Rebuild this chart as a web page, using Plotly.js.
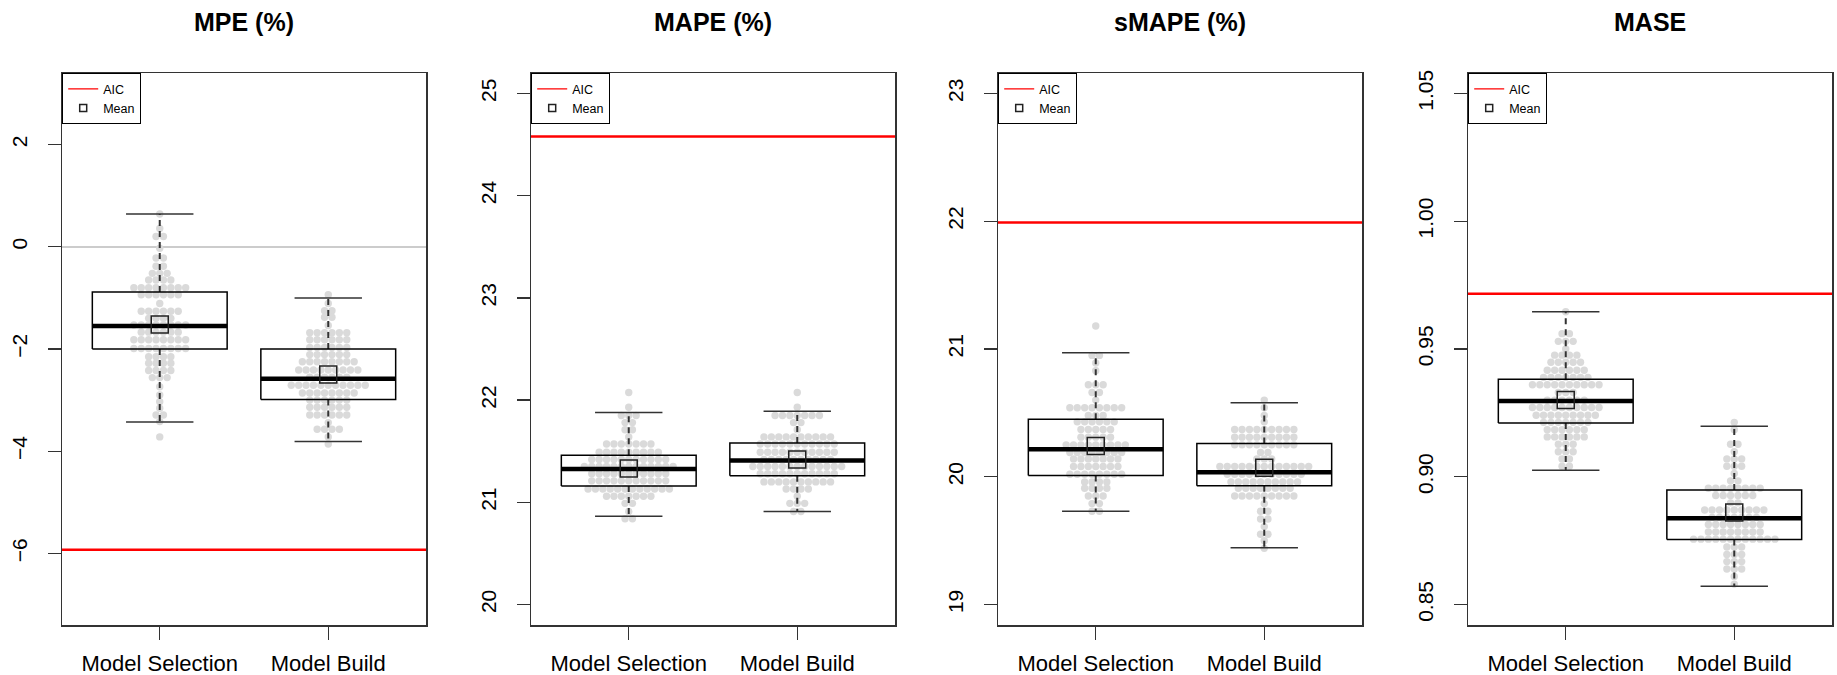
<!DOCTYPE html>
<html>
<head>
<meta charset="utf-8">
<script src="https://cdn.plot.ly/plotly-3.0.1.min.js"></script>
<style>html,body{margin:0;padding:0;background:#fff;}#chart{width:1837px;height:675px;}</style>
</head>
<body>
<div id="chart"></div>
<script>
// ---------------- DATA ----------------
const categories = ['Model Selection', 'Model Build'];
const panelTitles = ['MPE (%)', 'MAPE (%)', 'sMAPE (%)', 'MASE'];
const aicValues = [-5.93, 24.58, 21.99, 0.9716];

// box statistics [Model Selection, Model Build]
const mpeLower = [-3.43, -3.81], mpeQ1 = [-2.00, -2.99], mpeMedian = [-1.55, -2.58], mpeQ3 = [-0.885, -2.00], mpeUpper = [0.64, -1.00], mpeMean = [-1.52, -2.50];
const mapeLower = [20.865, 20.91], mapeQ1 = [21.16, 21.26], mapeMedian = [21.325, 21.41], mapeQ3 = [21.46, 21.58], mapeUpper = [21.88, 21.89], mapeMean = [21.33, 21.42];
const smapeLower = [19.73, 19.445], smapeQ1 = [20.01, 19.93], smapeMedian = [20.215, 20.035], smapeQ3 = [20.45, 20.26], smapeUpper = [20.97, 20.58], smapeMean = [20.24, 20.07];
const maseLower = [0.9026, 0.8572], maseQ1 = [0.921, 0.8755], maseMedian = [0.9297, 0.8838], maseQ3 = [0.9382, 0.8948], maseUpper = [0.9646, 0.9198], maseMean = [0.9300, 0.8860];

// beeswarm rows: value of each row and number of points in it
const mpeSelRowY = [0.64, 0.36, 0.20, -0.03, -0.22, -0.38, -0.52, -0.65, -0.80, -0.94, -1.11, -1.26, -1.40, -1.53, -1.67, -1.82, -1.99, -2.15, -2.28, -2.42, -2.56, -2.74, -2.90, -3.03, -3.16, -3.29, -3.42, -3.72];
const mpeSelRowN = [1, 1, 2, 1, 2, 2, 3, 4, 8, 6, 1, 6, 4, 8, 6, 8, 8, 4, 4, 4, 3, 1, 1, 1, 1, 2, 1, 1];
const mpeBldRowY = [-0.94, -1.11, -1.25, -1.38, -1.54, -1.68, -1.82, -1.97, -2.11, -2.25, -2.41, -2.55, -2.71, -2.86, -3.00, -3.14, -3.29, -3.44, -3.57, -3.72, -3.86];
const mpeBldRowN = [1, 1, 2, 2, 1, 6, 6, 6, 6, 8, 9, 6, 11, 8, 6, 6, 6, 1, 4, 1, 1];
const mapeSelRowY = [22.075, 21.93, 21.85, 21.78, 21.71, 21.64, 21.57, 21.49, 21.42, 21.35, 21.28, 21.21, 21.13, 21.06, 20.99, 20.91, 20.84];
const mapeSelRowN = [1, 1, 3, 2, 2, 1, 7, 9, 11, 13, 11, 11, 12, 7, 2, 1, 2];
const mapeBldRowY = [22.075, 21.93, 21.85, 21.78, 21.71, 21.64, 21.57, 21.49, 21.42, 21.35, 21.28, 21.20, 21.13, 21.06, 20.99, 20.91];
const mapeBldRowN = [1, 1, 7, 2, 1, 10, 11, 11, 10, 13, 11, 10, 4, 1, 3, 2];
const smapeSelRowY = [21.18, 20.95, 20.89, 20.83, 20.72, 20.66, 20.60, 20.54, 20.48, 20.43, 20.37, 20.31, 20.25, 20.19, 20.14, 20.08, 20.02, 19.96, 19.91, 19.85, 19.79, 19.73];
const smapeSelRowN = [1, 2, 1, 1, 3, 2, 1, 8, 3, 6, 5, 5, 9, 8, 7, 7, 8, 4, 4, 3, 2, 2];
const smapeBldRowY = [20.60, 20.54, 20.48, 20.43, 20.37, 20.31, 20.25, 20.19, 20.14, 20.08, 20.02, 19.96, 19.91, 19.85, 19.79, 19.73, 19.67, 19.61, 19.55, 19.50, 19.44];
const smapeBldRowN = [1, 1, 1, 1, 9, 9, 9, 2, 3, 13, 11, 10, 8, 9, 1, 2, 2, 1, 2, 1, 1];
const maseSelRowY = [0.9646, 0.9560, 0.9530, 0.9500, 0.9476, 0.9448, 0.9417, 0.9389, 0.9360, 0.9330, 0.9300, 0.9271, 0.9241, 0.9213, 0.9184, 0.9156, 0.9127, 0.9098, 0.9070, 0.9041];
const maseSelRowN = [1, 2, 3, 1, 4, 5, 6, 7, 10, 3, 6, 10, 9, 7, 6, 6, 3, 3, 2, 2];
const maseBldRowY = [0.9213, 0.9184, 0.9127, 0.9098, 0.9070, 0.9041, 0.9013, 0.8984, 0.8955, 0.8927, 0.8898, 0.8870, 0.8841, 0.8813, 0.8784, 0.8756, 0.8725, 0.8696, 0.8668, 0.8639, 0.8610, 0.8580];
const maseBldRowN = [1, 1, 2, 1, 3, 3, 1, 2, 8, 6, 2, 9, 7, 8, 8, 12, 3, 3, 3, 3, 1, 1];

// y axis settings per panel
const yRanges = [[-7.4, 3.4], [19.8, 25.2], [18.84, 23.16], [0.842, 1.058]];
const yDticks = [2, 1, 1, 0.05];
const yFormats = ['', '', '', '.2f'];

// ---------------- STYLE / LAYOUT ----------------
const W = 1837, H = 675;
const panelLeft = [62, 531, 998, 1468];
const panelW = 364;
const plotTop = 73, plotBottom = 625;
const xRange = [0.42, 2.58];
const ptPx = 7.4;
const dx = ptPx * (xRange[1] - xRange[0]) / panelW;
const FONT = 'Liberation Sans, Arial, Helvetica, sans-serif';

const panels = [
  {lower: mpeLower, q1: mpeQ1, med: mpeMedian, q3: mpeQ3, upper: mpeUpper, mean: mpeMean, rows: [[mpeSelRowY, mpeSelRowN], [mpeBldRowY, mpeBldRowN]]},
  {lower: mapeLower, q1: mapeQ1, med: mapeMedian, q3: mapeQ3, upper: mapeUpper, mean: mapeMean, rows: [[mapeSelRowY, mapeSelRowN], [mapeBldRowY, mapeBldRowN]]},
  {lower: smapeLower, q1: smapeQ1, med: smapeMedian, q3: smapeQ3, upper: smapeUpper, mean: smapeMean, rows: [[smapeSelRowY, smapeSelRowN], [smapeBldRowY, smapeBldRowN]]},
  {lower: maseLower, q1: maseQ1, med: maseMedian, q3: maseQ3, upper: maseUpper, mean: maseMean, rows: [[maseSelRowY, maseSelRowN], [maseBldRowY, maseBldRowN]]}
];

const traces = [];
const layout = {
  width: W, height: H,
  margin: {l: 0, r: 0, t: 0, b: 0},
  paper_bgcolor: '#fff', plot_bgcolor: '#fff',
  font: {family: FONT, color: '#000'},
  showlegend: true,
  annotations: []
};

const hw = 0.4, sw = 0.2;
panels.forEach((p, i) => {
  const n = i + 1;
  const xa = 'x' + (n === 1 ? '' : n), ya = 'y' + (n === 1 ? '' : n);
  const legName = 'legend' + (n === 1 ? '' : n);
  // beeswarm points
  const px = [], py = [];
  p.rows.forEach((r, g) => {
    const c = g + 1;
    r[0].forEach((v, k) => {
      const cnt = r[1][k];
      for (let j = 0; j < cnt; j++) { px.push(c + (j - (cnt - 1) / 2) * dx); py.push(v); }
    });
  });
  traces.push({type: 'scatter', mode: 'markers', x: px, y: py, xaxis: xa, yaxis: ya, showlegend: false, hoverinfo: 'skip',
    marker: {size: ptPx, color: '#DADADA', line: {width: 0}}});
  // whiskers (dashed), staples, boxes, medians
  const wx = [], wy = [], sx = [], sy = [], bx = [], by = [], mx = [], my = [];
  [0, 1].forEach(g => {
    const c = g + 1;
    wx.push(c, c, null, c, c, null); wy.push(p.q3[g], p.upper[g], null, p.q1[g], p.lower[g], null);
    sx.push(c - sw, c + sw, null, c - sw, c + sw, null); sy.push(p.upper[g], p.upper[g], null, p.lower[g], p.lower[g], null);
    bx.push(c - hw, c + hw, c + hw, c - hw, c - hw, null); by.push(p.q1[g], p.q1[g], p.q3[g], p.q3[g], p.q1[g], null);
    mx.push(c - hw, c + hw, null); my.push(p.med[g], p.med[g], null);
  });
  traces.push({type: 'scatter', mode: 'lines', x: wx, y: wy, xaxis: xa, yaxis: ya, showlegend: false, hoverinfo: 'skip',
    line: {color: '#333', width: 2, dash: '6px,5px'}});
  traces.push({type: 'scatter', mode: 'lines', x: sx, y: sy, xaxis: xa, yaxis: ya, showlegend: false, hoverinfo: 'skip',
    line: {color: '#333', width: 1.5}});
  traces.push({type: 'scatter', mode: 'lines', x: bx, y: by, xaxis: xa, yaxis: ya, showlegend: false, hoverinfo: 'skip',
    line: {color: '#000', width: 1.5}});
  traces.push({type: 'scatter', mode: 'lines', x: mx, y: my, xaxis: xa, yaxis: ya, showlegend: false, hoverinfo: 'skip',
    line: {color: '#000', width: 4.5}});
  traces.push({type: 'scatter', mode: 'markers', x: [1, 2], y: p.mean, xaxis: xa, yaxis: ya, showlegend: false, hoverinfo: 'skip',
    marker: {symbol: 'square-open', size: 17, color: '#222', line: {width: 1.5, color: '#222'}}});
  // AIC reference line
  traces.push({type: 'scatter', mode: 'lines', x: [0, 3], y: [aicValues[i], aicValues[i]], xaxis: xa, yaxis: ya, showlegend: false, hoverinfo: 'skip',
    line: {color: '#FF0000', width: 2.5}});
  // legend-only entries
  traces.push({type: 'scatter', mode: 'lines', x: [null], y: [null], xaxis: xa, yaxis: ya, name: 'AIC', legend: legName, showlegend: true,
    line: {color: '#FF0000', width: 1.2}});
  traces.push({type: 'scatter', mode: 'markers', x: [null], y: [null], xaxis: xa, yaxis: ya, name: 'Mean', legend: legName, showlegend: true,
    marker: {symbol: 'square-open', size: 7, color: '#222', line: {width: 1.5, color: '#222'}}});

  const x0 = panelLeft[i] / W, x1 = (panelLeft[i] + panelW) / W;
  const y0 = 1 - plotBottom / H, y1 = 1 - plotTop / H;
  layout['xaxis' + (n === 1 ? '' : n)] = {
    domain: [x0, x1], anchor: ya, range: xRange, tickmode: 'array', tickvals: [1, 2], ticktext: categories,
    ticks: 'outside', ticklen: 13, tickwidth: 1.3, tickcolor: '#333', ticklabelstandoff: 5,
    showline: true, mirror: true, linecolor: '#333', linewidth: 1.5, showgrid: false, zeroline: false,
    tickfont: {size: 22, family: FONT, color: '#000'}, fixedrange: true
  };
  layout['yaxis' + (n === 1 ? '' : n)] = {
    domain: [y0, y1], anchor: xa, range: yRanges[i], dtick: yDticks[i], tick0: 0, tickformat: yFormats[i],
    tickangle: -90, ticks: 'outside', ticklen: 13, tickwidth: 1.3, tickcolor: '#333', ticklabelstandoff: 12,
    showline: true, mirror: true, linecolor: '#333', linewidth: 1.5, showgrid: false,
    zeroline: i === 0, zerolinecolor: '#CCCCCC', zerolinewidth: 1.5,
    tickfont: {size: 21, family: FONT, color: '#000'}, fixedrange: true
  };
  layout[legName] = {
    x: x0, y: y1, xanchor: 'left', yanchor: 'top', xref: 'paper', yref: 'paper',
    bgcolor: '#fff', bordercolor: '#000', borderwidth: 1.2,
    font: {size: 12.5, family: FONT, color: '#000'}, itemwidth: 30, tracegroupgap: 0
  };
  layout.annotations.push({
    text: '<b>' + panelTitles[i] + '</b>', xref: 'paper', yref: 'paper', x: (x0 + x1) / 2, y: 1 - 21.6 / H,
    xanchor: 'center', yanchor: 'middle', showarrow: false, font: {size: 25, family: FONT, color: '#000'}
  });
});

Plotly.newPlot('chart', traces, layout, {displayModeBar: false, staticPlot: true});
</script>
</body>
</html>
